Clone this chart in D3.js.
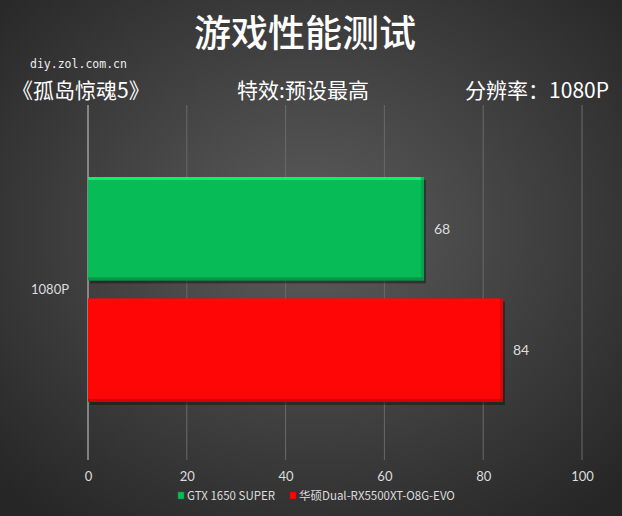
<!DOCTYPE html>
<html><head><meta charset="utf-8">
<script src="https://cdn.jsdelivr.net/npm/d3@7"></script>
<style>body{margin:0;background:#333}svg{display:block}</style>
</head><body><svg id="c" width="622" height="516"></svg>
<script>
const categories = ["1080P"];
const seriesNames = ["GTX 1650 SUPER", "华硕Dual-RX5500XT-O8G-EVO"];
const seriesValues = [68, 84];
const seriesColors = ["#07bb57", "#ff0606"];
const xTicks = [0, 20, 40, 60, 80, 100];

const W = 622, H = 516;
const svg = d3.select("#c");
const defs = svg.append("defs");
const bg = defs.append("radialGradient").attr("id","bg").attr("cx","50%").attr("cy","45%").attr("r","70%");
bg.append("stop").attr("offset","0%").attr("stop-color","#5c5c5c");
bg.append("stop").attr("offset","100%").attr("stop-color","#262626");
svg.append("rect").attr("width",W).attr("height",H).attr("fill","url(#bg)");

const cjk = "'Noto Sans CJK SC','Microsoft YaHei',sans-serif";
svg.append("text").attr("x",305).attr("y",47).attr("text-anchor","middle").attr("fill","#fff")
  .attr("font-family",cjk).attr("font-size",37).attr("font-weight",500).text("游戏性能测试");
svg.append("text").attr("x",30).attr("y",68).attr("fill","#eee")
  .attr("font-family","'DejaVu Sans Mono',monospace").attr("font-size",11.5).text("diy.zol.com.cn");
svg.append("text").attr("x",12).attr("y",98).attr("fill","#fff")
  .attr("font-family",cjk).attr("font-size",21).text("《孤岛惊魂5》");
svg.append("text").attr("x",303).attr("y",98).attr("text-anchor","middle").attr("fill","#fff")
  .attr("font-family",cjk).attr("font-size",21).text("特效:预设最高");
svg.append("text").attr("x",609).attr("y",98).attr("text-anchor","end").attr("fill","#fff")
  .attr("font-family",cjk).attr("font-size",21).text("分辨率：1080P");

const x = d3.scaleLinear().domain([0,100]).range([88,582]);
const y0 = d3.scaleBand().domain(categories).range([177,402]);
const y1 = d3.scaleBand().domain(seriesNames).range([0,y0.bandwidth()]).paddingInner(0.15).paddingOuter(0);

// gridlines
svg.append("g").selectAll("line").data(xTicks.slice(1)).join("line")
  .attr("x1",d=>x(d)).attr("x2",d=>x(d)).attr("y1",105).attr("y2",460)
  .attr("stroke","#6a6a6a").attr("stroke-width",1);
svg.append("line").attr("x1",x(0)).attr("x2",x(0)).attr("y1",105).attr("y2",460)
  .attr("stroke","#cfcfcf").attr("stroke-width",1);

// axis labels
const xAxis = d3.axisBottom(x).tickValues(xTicks).tickSize(0).tickPadding(0);
const gx = svg.append("g").attr("transform","translate(0,472)").call(xAxis);
gx.select(".domain").remove();
gx.selectAll("text").attr("fill","#ddd").attr("font-family","Lato,'Open Sans',sans-serif").attr("font-size",13);

const yAxis = d3.axisLeft(y0).tickSize(0).tickPadding(0);
const gy = svg.append("g").attr("transform","translate(69,0)").call(yAxis);
gy.select(".domain").remove();
gy.selectAll("text").attr("fill","#ddd").attr("font-family","Lato,'Open Sans',sans-serif").attr("font-size",13);

// bars
const data = seriesNames.map((s,i)=>({s, v:seriesValues[i], c:seriesColors[i]}));
const cat = categories[0];
data.forEach((d,i)=>{
  const by = y0(cat)+y1(d.s), bh = y1.bandwidth(), bx = x(0), bw = x(d.v)-x(0);
  const g = svg.append("g");
  g.append("rect").attr("x",bx+2).attr("y",by+3).attr("width",bw).attr("height",bh).attr("fill","rgba(0,0,0,0.35)");
  g.append("rect").attr("x",bx).attr("y",by).attr("width",bw).attr("height",bh).attr("fill",d.c);
  const lighter = d3.color(d.c).brighter(0.7), darker = d3.color(d.c).darker(0.6);
  g.append("rect").attr("x",bx).attr("y",by).attr("width",bw).attr("height",3).attr("fill",lighter);
  g.append("rect").attr("x",bx).attr("y",by+bh-3).attr("width",bw).attr("height",3).attr("fill",darker);
  g.append("rect").attr("x",bx+bw-3).attr("y",by).attr("width",3).attr("height",bh).attr("fill",darker).attr("opacity",0.6);
  svg.append("text").attr("x",x(d.v)+10).attr("y",by+bh/2+5).attr("fill","#ddd")
    .attr("font-family","Lato,'Open Sans',sans-serif").attr("font-size",14).text(d.v);
});

// legend
const legendX = [178, 290];
data.forEach((d,i)=>{
  const lg = svg.append("g").attr("transform",`translate(${legendX[i]},492)`);
  lg.append("rect").attr("x",0).attr("y",0).attr("width",6).attr("height",7).attr("fill",d.c).attr("stroke",d3.color(d.c).darker(0.8)).attr("stroke-width",0.5);
  lg.append("text").attr("x",9).attr("y",8).attr("fill","#ddd")
    .attr("font-family","'Noto Sans CJK SC',Lato,sans-serif").attr("font-size",11.5).text(d.s);
});
</script></body></html>
